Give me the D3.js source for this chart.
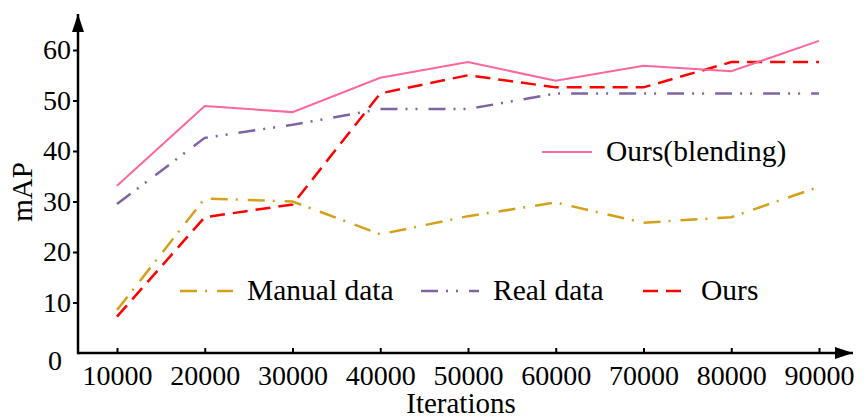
<!DOCTYPE html>
<style>
body { margin: 0; background: #fff; }
svg { display: block; font-family: "Liberation Serif", "Times New Roman", serif; }
</style>
<svg width="864" height="417"></svg>
<script src="https://d3js.org/d3.v7.min.js"></script>
<script>
const iterations = [10000, 20000, 30000, 40000, 50000, 60000, 70000, 80000, 90000];
const manualData = [8.5, 30.6, 30.0, 23.5, 27.1, 29.8, 25.8, 26.9, 32.9];
const realData = [29.5, 42.6, 45.2, 48.3, 48.3, 51.4, 51.4, 51.4, 51.4];
const ours = [7.2, 26.9, 29.4, 51.4, 55.0, 52.6, 52.6, 57.6, 57.6];
const oursBlending = [33.1, 48.9, 47.7, 54.5, 57.6, 53.9, 56.9, 55.8, 61.8];
const yTicks = [0, 10, 20, 30, 40, 50, 60];

const svg = d3.select("svg"),
      margin = {top: 14, right: 11, bottom: 64, left: 78},
      width = +svg.attr("width") - margin.left - margin.right,
      height = +svg.attr("height") - margin.top - margin.bottom,
      g = svg.append("g").attr("transform", `translate(${margin.left},${margin.top})`);

const xScale = d3.scaleLinear().domain([5556, 93875]).range([0, width]),
      yScale = d3.scaleLinear().domain([0, 60]).range([339, 36]);

const series = [
	{name: "Manual data", values: manualData, color: "#d4a017", dash: "17,8,2,10", sw: 2.5},
	{name: "Real data", values: realData, color: "#8064a2", dash: "17,8,2,8,2,11", sw: 2.5},
	{name: "Ours", values: ours, color: "#ff0000", dash: "15,8", sw: 2.5},
	{name: "Ours(blending)", values: oursBlending, color: "#ff6699", dash: null, sw: 2}
];

// arrowheads
svg.append("defs").append("marker")
	.attr("id", "arrow")
	.attr("viewBox", "0 0 10 10")
	.attr("refX", 10).attr("refY", 5)
	.attr("markerUnits", "userSpaceOnUse")
	.attr("markerWidth", 18).attr("markerHeight", 12)
	.attr("orient", "auto")
	.attr("preserveAspectRatio", "none")
	.append("path").attr("d", "M0,0L10,5L0,10Z").attr("fill", "#000");

const line = d3.line()
	.x((d, i) => xScale(iterations[i]))
	.y((d) => yScale(d));

g.append("g")
	.selectAll("path")
	.data(series)
	.enter()
	.append("path")
	.attr("fill", "none")
	.attr("stroke", (d) => d.color)
	.attr("stroke-width", (d) => d.sw)
	.attr("stroke-dasharray", (d) => d.dash)
	.attr("d", (d) => line(d.values));

// axes
const xAxis = d3.axisBottom(xScale).tickValues(iterations).tickSizeInner(-5).tickSizeOuter(0).tickPadding(12).tickFormat(d3.format("d"));
const yAxis = d3.axisLeft(yScale).tickValues(yTicks).tickSizeInner(5).tickSizeOuter(0).tickPadding(2);

const gx = g.append("g").attr("transform", `translate(0,${height})`).call(xAxis);
const gy = g.append("g").call(yAxis);
[gx, gy].forEach((a) => {
	a.attr("font-family", null).attr("font-size", null);
	a.select(".domain").remove();
	a.selectAll(".tick line").attr("stroke", "#000").attr("stroke-width", 2);
	a.selectAll(".tick text").attr("fill", "#000").style("font-size", "28px");
});
gy.selectAll(".tick").filter((d) => d === 0).select("line").remove();
gy.selectAll(".tick").filter((d) => d === 0).select("text").attr("dx", -9).attr("dy", "0.58em");

g.append("line")
	.attr("x1", 0).attr("x2", width)
	.attr("y1", height).attr("y2", height)
	.attr("stroke", "#000").attr("stroke-width", 2.5)
	.attr("marker-end", "url(#arrow)");
g.append("line")
	.attr("x1", 0).attr("x2", 0)
	.attr("y1", height + 1.2).attr("y2", 0)
	.attr("stroke", "#000").attr("stroke-width", 2.5)
	.attr("marker-end", "url(#arrow)");

// axis titles
g.append("text")
	.attr("x", 383).attr("y", 399)
	.attr("text-anchor", "middle")
	.style("font-size", "29px")
	.text("Iterations");
g.append("text")
	.attr("transform", "rotate(-90)")
	.attr("x", -178).attr("y", -46)
	.attr("text-anchor", "middle")
	.style("font-size", "29px")
	.text("mAP");

// legend
const legendPos = [
	{x: 102, y: 277, len: 53},
	{x: 343, y: 277, len: 58},
	{x: 565, y: 277, len: 44},
	{x: 464, y: 138, len: 50}
];
const leg = g.append("g")
	.selectAll("g")
	.data(series)
	.enter()
	.append("g")
	.attr("transform", (d, i) => `translate(${legendPos[i].x},${legendPos[i].y})`);
leg.append("line")
	.attr("x1", 0).attr("x2", (d, i) => legendPos[i].len)
	.attr("stroke", (d) => d.color)
	.attr("stroke-width", (d) => d.sw)
	.attr("stroke-dasharray", (d) => d.dash);
leg.append("text")
	.attr("x", (d, i) => legendPos[i].len + 14)
	.attr("y", 9)
	.style("font-size", "29.5px")
	.text((d) => d.name);
</script>
